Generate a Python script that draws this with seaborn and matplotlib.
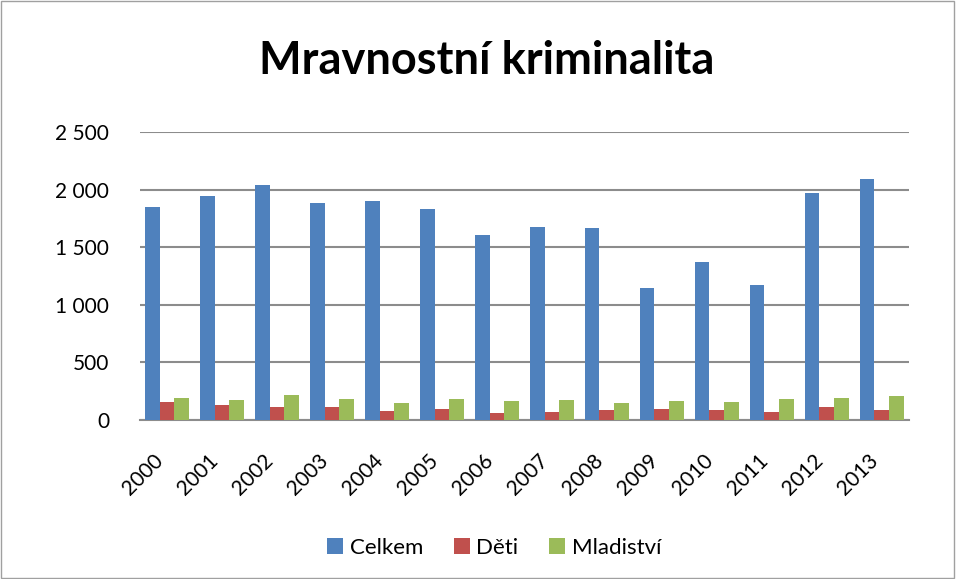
import pandas as pd
import matplotlib.pyplot as plt
import matplotlib.transforms as mtransforms
from matplotlib.ticker import FuncFormatter
from matplotlib.patches import Rectangle
import seaborn as sns

sns.set_theme(style="white")
plt.rcParams['font.family'] = ['Lato', 'DejaVu Sans']
plt.rcParams['text.color'] = 'black'

roky = ['2000', '2001', '2002', '2003', '2004', '2005', '2006',
        '2007', '2008', '2009', '2010', '2011', '2012', '2013']
celkem = [1845, 1942, 2036, 1883, 1904, 1836, 1604,
          1677, 1668, 1147, 1374, 1174, 1968, 2094]
deti = [159, 130, 109, 109, 80, 94, 59, 71, 86, 94, 90, 71, 109, 90]
mladistvi = [194, 174, 218, 183, 150, 183, 168, 176, 147, 168, 159, 179, 191, 212]

serie = ['Celkem', 'Děti', 'Mladiství']
barvy = {'Celkem': '#4F81BD', 'Děti': '#C0504D', 'Mladiství': '#9BBB59'}

df = pd.DataFrame({'rok': roky * 3,
                   'hodnota': celkem + deti + mladistvi,
                   'serie': [s for s in serie for _ in roky]})

fig = plt.figure(figsize=(9.56, 5.79), dpi=100)
ax = fig.add_axes([0.146, 0.2746, 0.805, 0.4974])

sns.barplot(data=df, x='rok', y='hodnota', hue='serie', palette=barvy,
            width=0.8, ax=ax, saturation=1, edgecolor='none', zorder=3)

ax.set_ylim(0, 2500)
ax.set_yticks([0, 500, 1000, 1500, 2000, 2500])
ax.yaxis.set_major_formatter(FuncFormatter(lambda v, p: f"{int(v):,}".replace(',', ' ')))
ax.grid(axis='y', color='#8c8c8c', linewidth=1.5, zorder=0)
ax.set_xlabel('')
ax.set_ylabel('')
for s in ['top', 'right', 'left']:
    ax.spines[s].set_visible(False)
ax.spines['bottom'].set_color('#8c8c8c')
ax.spines['bottom'].set_linewidth(1.5)
ax.tick_params(axis='both', length=0, labelsize=15, colors='black')
ax.tick_params(axis='y', pad=22)

# popisky let posunout dolu, jako v Excelu
posun = mtransforms.ScaledTranslation(-0.07, -0.33, fig.dpi_scale_trans)
for lbl in ax.get_xticklabels():
    lbl.set_rotation(45)
    lbl.set_ha('right')
    lbl.set_va('center')
    lbl.set_rotation_mode('anchor')
    lbl.set_transform(lbl.get_transform() + posun)

# Legenda
handles, labels = ax.get_legend_handles_labels()
ax.legend_.remove()
fig.legend(handles, labels, loc='center', bbox_to_anchor=(0.517, 0.054), ncol=3,
           frameon=False, fontsize=16, handlelength=0.7, handleheight=0.7,
           handletextpad=0.3, columnspacing=1.4)

fig.text(0.509, 0.895, 'Mravnostní kriminalita', ha='center', va='center',
         fontsize=32.5, fontweight='bold', color='black')

fig.patches.append(Rectangle((0.001, 0.002), 0.997, 0.996, transform=fig.transFigure,
                             fill=False, edgecolor='#a0a0a0', linewidth=1))

plt.savefig('out.png', dpi=100)
